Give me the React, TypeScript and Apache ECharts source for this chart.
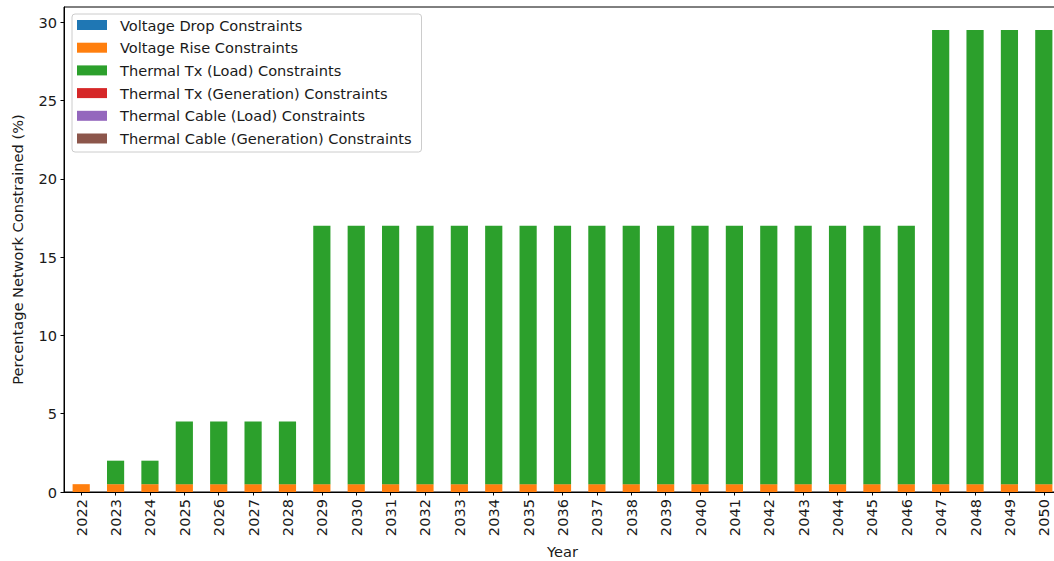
import React, { useEffect, useRef } from "react";
import * as echarts from "echarts";

const years = [
  "2022", "2023", "2024", "2025", "2026", "2027", "2028", "2029", "2030", "2031",
  "2032", "2033", "2034", "2035", "2036", "2037", "2038", "2039", "2040", "2041",
  "2042", "2043", "2044", "2045", "2046", "2047", "2048", "2049", "2050",
];

const voltageDrop = [
  0, 0, 0, 0, 0, 0, 0, 0, 0, 0, 0, 0, 0, 0, 0, 0, 0, 0, 0, 0, 0, 0, 0, 0, 0, 0, 0, 0, 0,
];
const voltageRise = [
  0.5, 0.5, 0.5, 0.5, 0.5, 0.5, 0.5, 0.5, 0.5, 0.5, 0.5, 0.5, 0.5, 0.5, 0.5, 0.5, 0.5,
  0.5, 0.5, 0.5, 0.5, 0.5, 0.5, 0.5, 0.5, 0.5, 0.5, 0.5, 0.5,
];
const thermalTxLoad = [
  0, 1.5, 1.5, 4.0, 4.0, 4.0, 4.0, 16.5, 16.5, 16.5, 16.5, 16.5, 16.5, 16.5, 16.5,
  16.5, 16.5, 16.5, 16.5, 16.5, 16.5, 16.5, 16.5, 16.5, 16.5, 29.0, 29.0, 29.0, 29.0,
];
const thermalTxGen = [
  0, 0, 0, 0, 0, 0, 0, 0, 0, 0, 0, 0, 0, 0, 0, 0, 0, 0, 0, 0, 0, 0, 0, 0, 0, 0, 0, 0, 0,
];
const thermalCableLoad = [
  0, 0, 0, 0, 0, 0, 0, 0, 0, 0, 0, 0, 0, 0, 0, 0, 0, 0, 0, 0, 0, 0, 0, 0, 0, 0, 0, 0, 0,
];
const thermalCableGen = [
  0, 0, 0, 0, 0, 0, 0, 0, 0, 0, 0, 0, 0, 0, 0, 0, 0, 0, 0, 0, 0, 0, 0, 0, 0, 0, 0, 0, 0,
];

const seriesNames = [
  "Voltage Drop Constraints",
  "Voltage Rise Constraints",
  "Thermal Tx (Load) Constraints",
  "Thermal Tx (Generation) Constraints",
  "Thermal Cable (Load) Constraints",
  "Thermal Cable (Generation) Constraints",
];
const seriesData = [voltageDrop, voltageRise, thermalTxLoad, thermalTxGen, thermalCableLoad, thermalCableGen];
const colors = ["#1f77b4", "#ff7f0e", "#2ca02c", "#d62728", "#9467bd", "#8c564b"];
const yTicks = [0, 5, 10, 15, 20, 25, 30];

const FONT = "DejaVu Sans";
const TXT = "#1a1a1a";
const FS = 14.6;

export default function App() {
  const ref = useRef<HTMLDivElement>(null);
  useEffect(() => {
    if (!ref.current) return;
    const chart = echarts.init(ref.current, undefined, { renderer: "svg" });
    chart.setOption({
      animation: false,
      color: colors,
      textStyle: { fontFamily: FONT },
      grid: {
        left: 64,
        top: 7,
        right: -7,
        bottom: 69,
        outerBoundsMode: "none",
        containLabel: false,
        show: true,
        borderColor: "#000",
        borderWidth: 1,
        backgroundColor: "transparent",
      },
      legend: {
        orient: "vertical",
        left: 72,
        top: 14,
        data: seriesNames,
        icon: "rect",
        itemWidth: 30,
        itemHeight: 10,
        itemGap: 7.7,
        padding: [3.5, 10, 6, 5],
        borderColor: "#cccccc",
        borderWidth: 1,
        borderRadius: 3,
        backgroundColor: "rgba(255,255,255,0.8)",
        textStyle: {
          fontFamily: FONT,
          fontSize: FS,
          color: TXT,
          lineHeight: 14,
          padding: [0, 0, 0, 8],
        },
      },
      xAxis: {
        type: "category",
        data: years,
        name: "Year",
        nameLocation: "middle",
        nameGap: 52,
        nameTextStyle: { fontFamily: FONT, fontSize: FS, color: TXT },
        axisLine: { show: true, lineStyle: { color: "#000", width: 1 } },
        axisTick: { show: true, alignWithLabel: true, length: 3.5, lineStyle: { color: "#000" } },
        axisLabel: { rotate: 90, margin: 7, fontFamily: FONT, fontSize: FS, color: TXT },
        splitLine: { show: false },
      },
      yAxis: {
        type: "value",
        min: 0,
        max: 30.975,
        interval: 5,
        name: "Percentage Network Constrained (%)",
        nameLocation: "middle",
        nameGap: 39,
        nameTextStyle: { fontFamily: FONT, fontSize: FS, color: TXT },
        axisLine: { show: true, lineStyle: { color: "#000", width: 1 } },
        axisTick: { show: true, length: 3.5, lineStyle: { color: "#000" }, customValues: yTicks },
        axisLabel: { margin: 7, fontFamily: FONT, fontSize: FS, color: TXT, customValues: yTicks },
        splitLine: { show: false },
      },
      series: seriesNames.map((name, i) => ({
        name,
        type: "bar",
        stack: "total",
        barWidth: "50%",
        data: seriesData[i],
        itemStyle: { color: colors[i] },
      })),
    });
    return () => chart.dispose();
  }, []);
  return (
    <div
      ref={ref}
      style={{ position: "absolute", left: 0, top: 0, width: 1054, height: 561, background: "#fff" }}
    />
  );
}
